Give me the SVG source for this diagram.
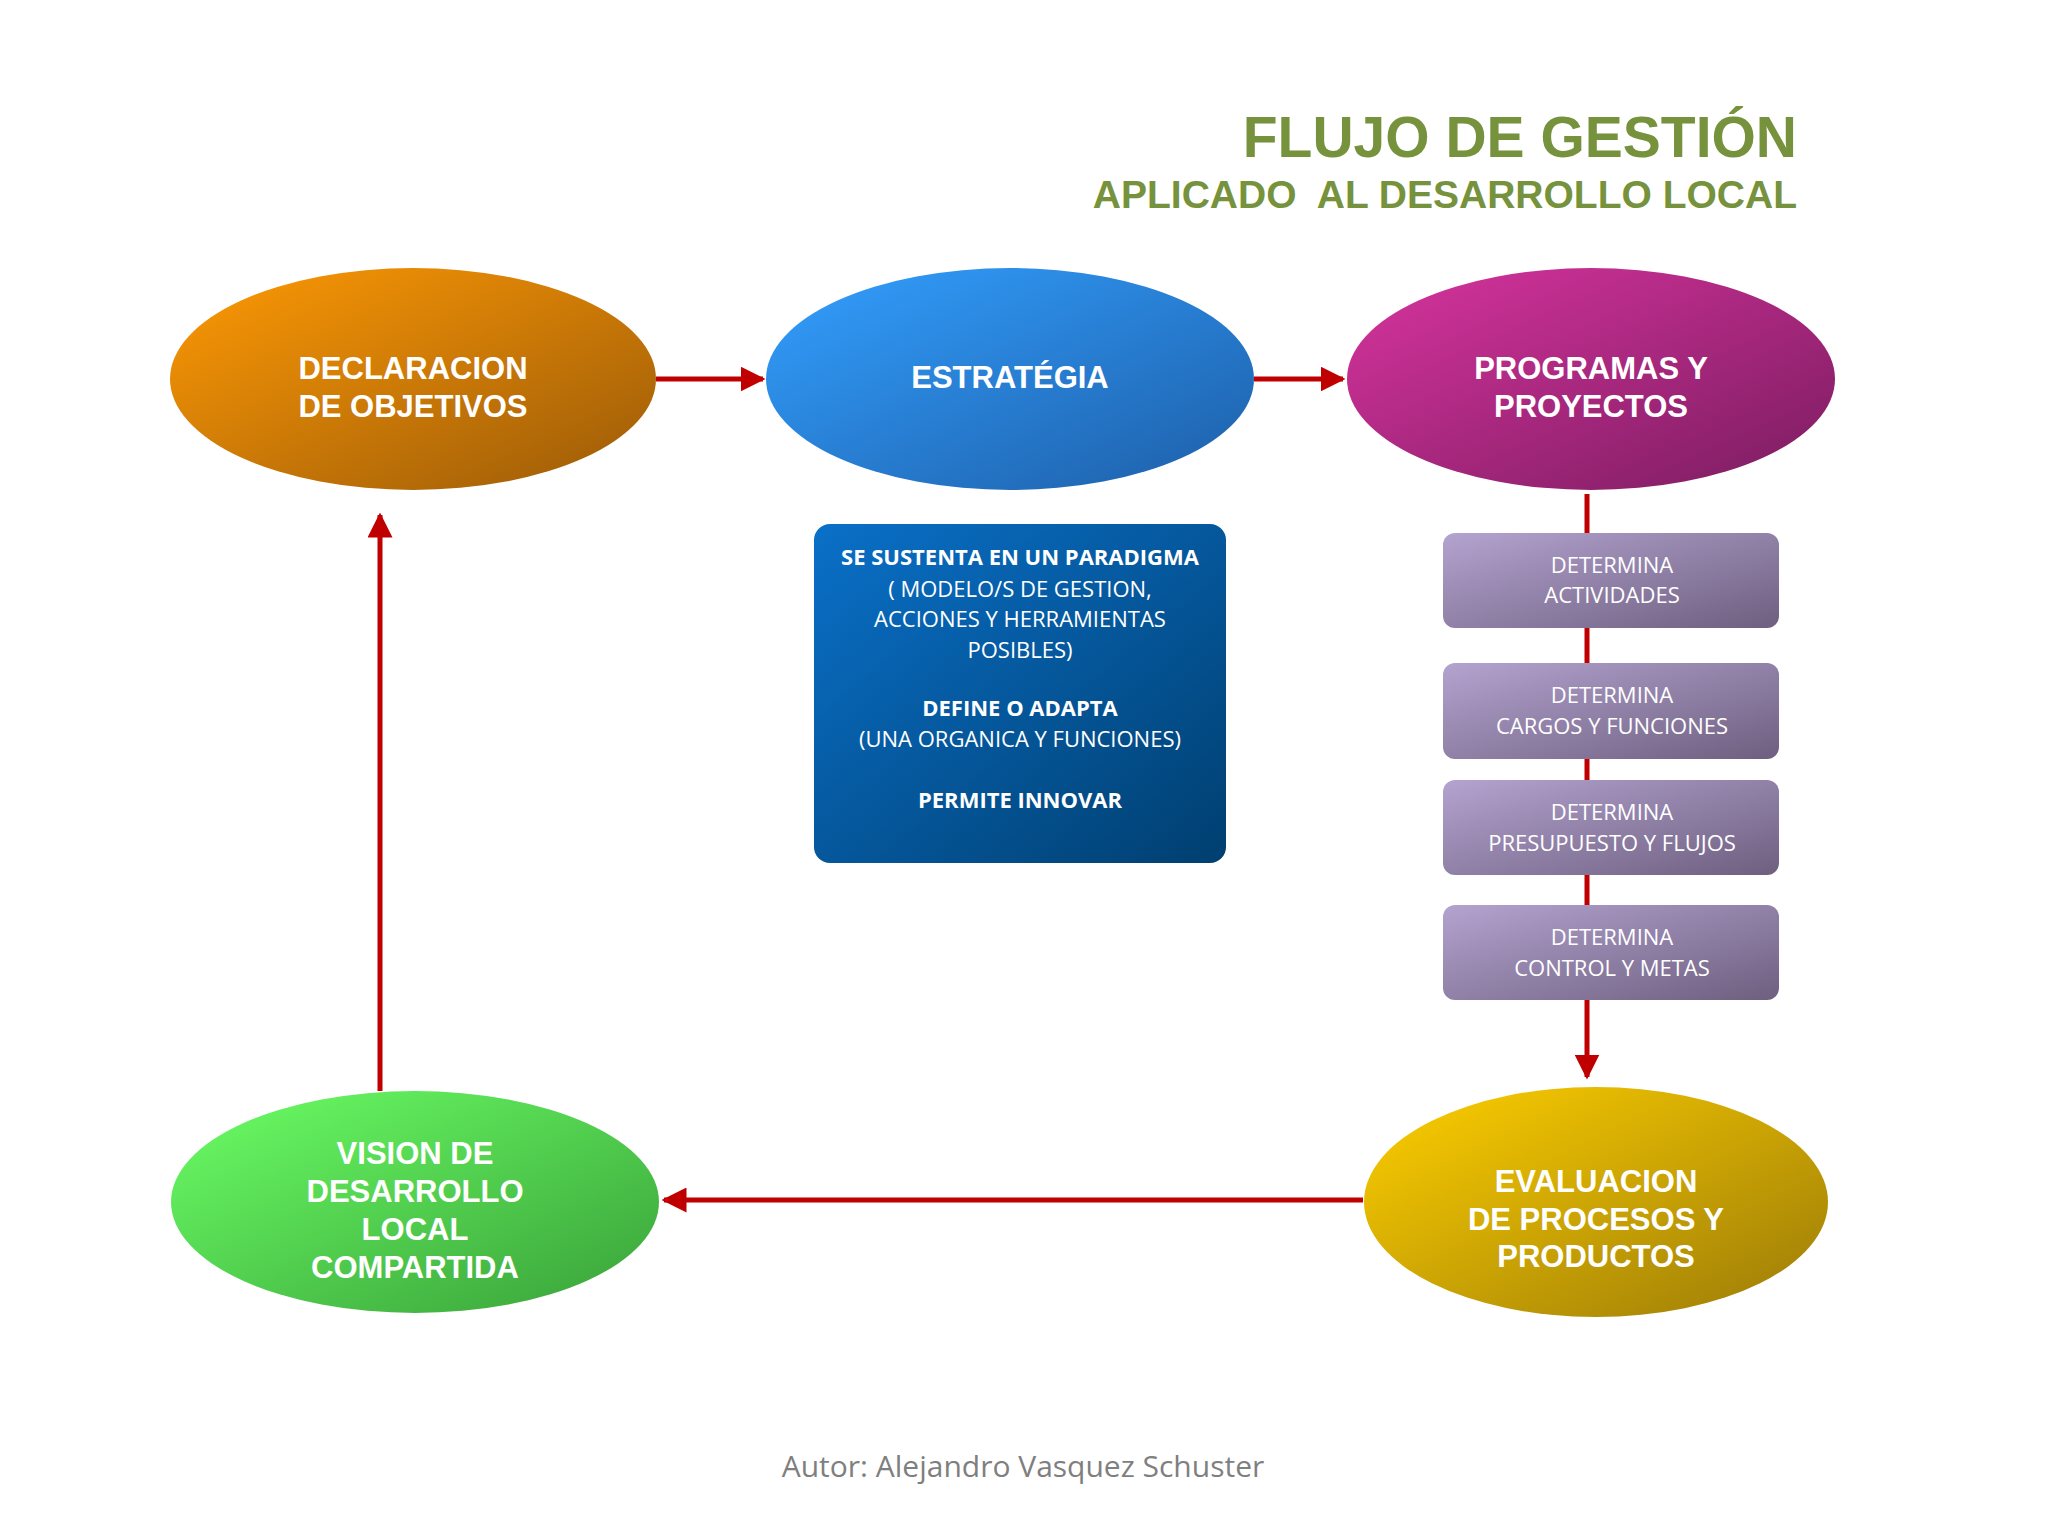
<svg xmlns="http://www.w3.org/2000/svg" width="2048" height="1536" viewBox="0 0 2048 1536">
<defs>
<linearGradient id="gO" x1="0" y1="0" x2="1" y2="1"><stop offset="0" stop-color="#ff9a05"/><stop offset="1" stop-color="#9a5a08"/></linearGradient>
<linearGradient id="gB" x1="0" y1="0" x2="1" y2="1"><stop offset="0" stop-color="#33a0ff"/><stop offset="1" stop-color="#1d5ea8"/></linearGradient>
<linearGradient id="gM" x1="0" y1="0" x2="1" y2="1"><stop offset="0" stop-color="#d8349e"/><stop offset="1" stop-color="#7a1c60"/></linearGradient>
<linearGradient id="gG" x1="0" y1="0" x2="1" y2="1"><stop offset="0" stop-color="#6cff66"/><stop offset="1" stop-color="#38a038"/></linearGradient>
<linearGradient id="gY" x1="0" y1="0" x2="1" y2="1"><stop offset="0" stop-color="#ffd000"/><stop offset="1" stop-color="#9a7a08"/></linearGradient>
<linearGradient id="gBox" x1="0" y1="0" x2="1" y2="1"><stop offset="0" stop-color="#0a70c8"/><stop offset="1" stop-color="#003f70"/></linearGradient>
<linearGradient id="gP" x1="0" y1="0" x2="1" y2="1"><stop offset="0" stop-color="#b3a3cf"/><stop offset="1" stop-color="#6e5f80"/></linearGradient>
<marker id="ar" viewBox="0 0 10 10" refX="9" refY="5" markerWidth="5" markerHeight="5" orient="auto"><path d="M0,0L10,5L0,10z" fill="#c00000"/></marker>
<style>
.e{font-family:"Liberation Sans",Arial,sans-serif;font-weight:bold;fill:#fff;text-anchor:middle;dominant-baseline:central;font-size:31px}
.b{font-family:"Open Sans","Noto Sans",sans-serif;fill:#fff;text-anchor:middle;dominant-baseline:central;font-size:22px}
.bb{font-weight:bold}
.c{stroke:#c00000;stroke-width:5;fill:none}
</style>
</defs>
<rect width="2048" height="1536" fill="#fff"/>
<text x="1797" y="137" font-family="Liberation Sans,Arial,sans-serif" font-weight="bold" font-size="57" fill="#76923c" text-anchor="end" dominant-baseline="central">FLUJO DE GESTIÓN</text>
<text x="1797" y="194" font-family="Liberation Sans,Arial,sans-serif" font-weight="bold" font-size="39" fill="#76923c" text-anchor="end" dominant-baseline="central" xml:space="preserve">APLICADO  AL DESARROLLO LOCAL</text>
<g id="connectors">
<line class="c" x1="656" y1="379" x2="763" y2="379" marker-end="url(#ar)"/>
<line class="c" x1="1254" y1="379" x2="1343" y2="379" marker-end="url(#ar)"/>
<line class="c" x1="1587" y1="494" x2="1587" y2="1077" marker-end="url(#ar)"/>
<line class="c" x1="1363" y1="1200" x2="664" y2="1200" marker-end="url(#ar)"/>
<line class="c" x1="380" y1="1091" x2="380" y2="515" marker-end="url(#ar)"/>
</g>
<g id="declaracion"><ellipse cx="413" cy="379" rx="243" ry="111" fill="url(#gO)"/><text class="e" x="413" y="368">DECLARACION</text><text class="e" x="413" y="406">DE OBJETIVOS</text></g>
<g id="estrategia"><ellipse cx="1010" cy="379" rx="244" ry="111" fill="url(#gB)"/><text class="e" x="1010" y="377" font-size="47">ESTRATÉGIA</text></g>
<g id="programas"><ellipse cx="1591" cy="379" rx="244" ry="111" fill="url(#gM)"/><text class="e" x="1591" y="368">PROGRAMAS Y</text><text class="e" x="1591" y="406">PROYECTOS</text></g>
<g id="vision"><ellipse cx="415" cy="1202" rx="244" ry="111" fill="url(#gG)"/><text class="e" x="415" y="1153">VISION DE</text><text class="e" x="415" y="1191">DESARROLLO</text><text class="e" x="415" y="1229">LOCAL</text><text class="e" x="415" y="1267">COMPARTIDA</text></g>
<g id="evaluacion"><ellipse cx="1596" cy="1202" rx="232" ry="115" fill="url(#gY)"/><text class="e" x="1596" y="1181">EVALUACION</text><text class="e" x="1596" y="1219">DE PROCESOS Y</text><text class="e" x="1596" y="1256">PRODUCTOS</text></g>
<g id="sustenta"><rect x="814" y="524" width="412" height="339" rx="16" fill="url(#gBox)"/>
<text class="b bb" x="1020" y="556">SE SUSTENTA EN UN PARADIGMA</text>
<text class="b" x="1020" y="588">( MODELO/S DE GESTION,</text>
<text class="b" x="1020" y="618">ACCIONES Y HERRAMIENTAS</text>
<text class="b" x="1020" y="649">POSIBLES)</text>
<text class="b bb" x="1020" y="707">DEFINE O ADAPTA</text>
<text class="b" x="1020" y="738">(UNA ORGANICA Y FUNCIONES)</text>
<text class="b bb" x="1020" y="799">PERMITE INNOVAR</text></g>
<g id="actividades"><rect x="1443" y="533" width="336" height="95" rx="12" fill="url(#gP)"/><text class="b" x="1612" y="564">DETERMINA</text><text class="b" x="1612" y="594">ACTIVIDADES</text></g>
<g id="cargos"><rect x="1443" y="663" width="336" height="96" rx="12" fill="url(#gP)"/><text class="b" x="1612" y="694">DETERMINA</text><text class="b" x="1612" y="725">CARGOS Y FUNCIONES</text></g>
<g id="presupuesto"><rect x="1443" y="780" width="336" height="95" rx="12" fill="url(#gP)"/><text class="b" x="1612" y="811">DETERMINA</text><text class="b" x="1612" y="842">PRESUPUESTO Y FLUJOS</text></g>
<g id="control"><rect x="1443" y="905" width="336" height="95" rx="12" fill="url(#gP)"/><text class="b" x="1612" y="936">DETERMINA</text><text class="b" x="1612" y="967">CONTROL Y METAS</text></g>
<text x="1023" y="1465" font-family="Open Sans,Noto Sans,sans-serif" font-size="30" fill="#7f7f7f" text-anchor="middle" dominant-baseline="central">Autor: Alejandro Vasquez Schuster</text>
</svg>
